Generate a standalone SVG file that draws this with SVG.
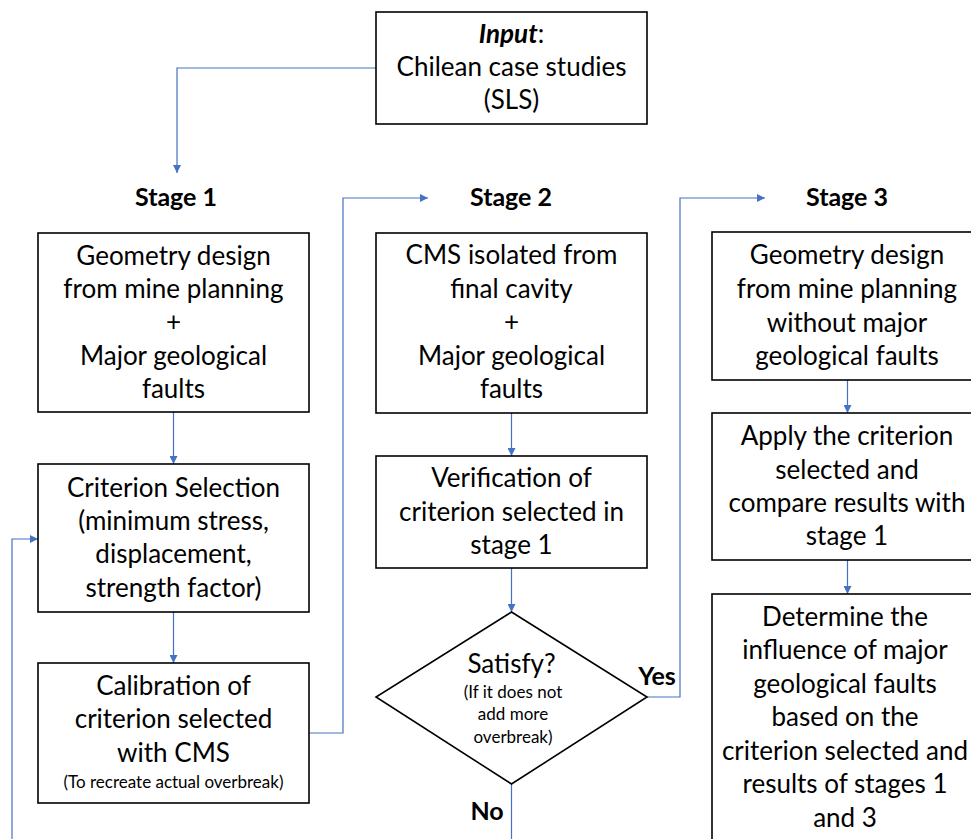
<svg xmlns="http://www.w3.org/2000/svg" width="971" height="839" viewBox="0 0 971 839">
<defs>
<marker id="ah" markerWidth="8" markerHeight="8" refX="8" refY="4" orient="auto" markerUnits="userSpaceOnUse">
<path d="M0,0 L8,4 L0,8 Z" fill="#4472C4"/>
</marker>
<style>
.box{fill:#fff;stroke:#000;stroke-width:1.6}
.t{font-family:Lato,"Liberation Sans",sans-serif;font-size:26px;fill:#000;text-anchor:middle}
.s{font-family:Lato,"Liberation Sans",sans-serif;font-size:17px;fill:#000;text-anchor:middle}
.b{font-family:Lato,"Liberation Sans",sans-serif;font-size:25px;font-weight:bold;fill:#000;text-anchor:middle}
.c{fill:none;stroke:#4472C4;stroke-width:1.2}
</style>
</defs>
<rect width="971" height="839" fill="#fff"/>
<g id="connectors">
<path class="c" d="M376,68 H177 V173" marker-end="url(#ah)"/>
<path class="c" d="M173.5,412 V464" marker-end="url(#ah)"/>
<path class="c" d="M173.5,612 V663" marker-end="url(#ah)"/>
<path class="c" d="M309,733 H343 V198 H428" marker-end="url(#ah)"/>
<path class="c" d="M12,839 V539 H38" marker-end="url(#ah)"/>
<path class="c" d="M511.5,413 V456" marker-end="url(#ah)"/>
<path class="c" d="M511.5,568 V612" marker-end="url(#ah)"/>
<path class="c" d="M647,697 H680 V198 H765" marker-end="url(#ah)"/>
<path class="c" d="M511.5,784 V839"/>
<path class="c" d="M847.5,380 V413" marker-end="url(#ah)"/>
<path class="c" d="M847.5,560 V594" marker-end="url(#ah)"/>
</g>
<g id="input">
<rect class="box" x="376" y="12" width="271" height="112"/>
<text class="t" x="511.5" y="43"><tspan font-weight="bold" font-style="italic">Input</tspan>:</text>
<text class="t" x="511.5" y="76">Chilean case studies</text>
<text class="t" x="511.5" y="109">(SLS)</text>
</g>
<g id="labels">
<text class="b" x="176" y="206">Stage 1</text>
<text class="b" x="511" y="206">Stage 2</text>
<text class="b" x="847" y="206">Stage 3</text>
<text class="b" x="657" y="685">Yes</text>
<text class="b" x="487" y="820">No</text>
</g>
<g id="s1-geometry">
<rect class="box" x="38" y="233" width="271" height="179"/>
<text class="t" x="173.5" y="265">Geometry design</text>
<text class="t" x="173.5" y="298">from mine planning</text>
<text class="t" x="173.5" y="331">+</text>
<text class="t" x="173.5" y="365">Major geological</text>
<text class="t" x="173.5" y="398">faults</text>
</g>
<g id="s1-criterion">
<rect class="box" x="38" y="464" width="271" height="148"/>
<text class="t" x="173.5" y="497">Criterion Selection</text>
<text class="t" x="173.5" y="530">(minimum stress,</text>
<text class="t" x="173.5" y="563">displacement,</text>
<text class="t" x="173.5" y="597">strength factor)</text>
</g>
<g id="s1-calibration">
<rect class="box" x="38" y="663" width="271" height="140"/>
<text class="t" x="173.5" y="695">Calibration of</text>
<text class="t" x="173.5" y="728">criterion selected</text>
<text class="t" x="173.5" y="762">with CMS</text>
<text class="s" x="173.5" y="788">(To recreate actual overbreak)</text>
</g>
<g id="s2-cms">
<rect class="box" x="376" y="233" width="271" height="180"/>
<text class="t" x="511.5" y="264">CMS isolated from</text>
<text class="t" x="511.5" y="298">final cavity</text>
<text class="t" x="511.5" y="331">+</text>
<text class="t" x="511.5" y="365">Major geological</text>
<text class="t" x="511.5" y="398">faults</text>
</g>
<g id="s2-verification">
<rect class="box" x="376" y="456" width="271" height="112"/>
<text class="t" x="511.5" y="487">Verification of</text>
<text class="t" x="511.5" y="521">criterion selected in</text>
<text class="t" x="511.5" y="554">stage 1</text>
</g>
<g id="s2-satisfy">
<path class="box" d="M511.5,612 L647,697 L511.5,784 L376,697 Z"/>
<text class="t" x="511.5" y="673">Satisfy?</text>
<text class="s" x="513" y="698">(If it does not</text>
<text class="s" x="513" y="720">add more</text>
<text class="s" x="513" y="743">overbreak)</text>
</g>
<g id="s3-geometry">
<rect class="box" x="712" y="232" width="271" height="148"/>
<text class="t" x="847" y="264">Geometry design</text>
<text class="t" x="847" y="298">from mine planning</text>
<text class="t" x="847" y="332">without major</text>
<text class="t" x="847" y="365">geological faults</text>
</g>
<g id="s3-apply">
<rect class="box" x="712" y="413" width="271" height="147"/>
<text class="t" x="847" y="445">Apply the criterion</text>
<text class="t" x="847" y="479">selected and</text>
<text class="t" x="847" y="512">compare results with</text>
<text class="t" x="847" y="545">stage 1</text>
</g>
<g id="s3-determine">
<rect class="box" x="712" y="594" width="271" height="260"/>
<text class="t" x="845" y="626">Determine the</text>
<text class="t" x="845" y="659">influence of major</text>
<text class="t" x="845" y="693">geological faults</text>
<text class="t" x="845" y="726">based on the</text>
<text class="t" x="845" y="760">criterion selected and</text>
<text class="t" x="845" y="793">results of stages 1</text>
<text class="t" x="845" y="827">and 3</text>
</g>
</svg>
